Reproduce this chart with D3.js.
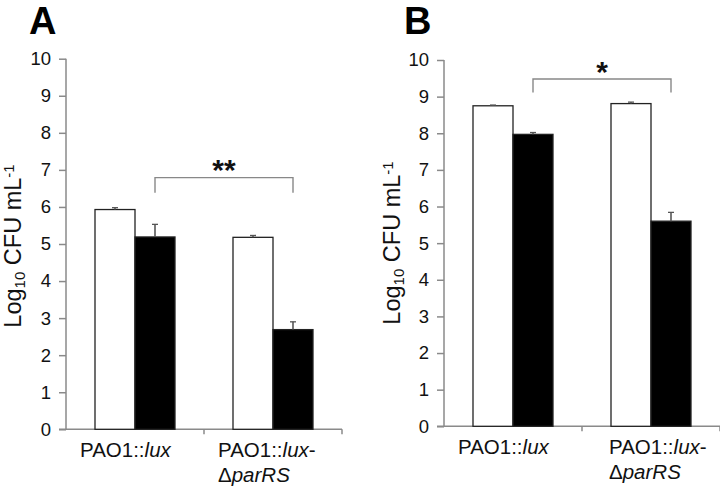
<!DOCTYPE html>
<html>
<head>
<meta charset="utf-8">
<script src="https://cdn.jsdelivr.net/npm/d3@7"></script>
<style>
  html, body { margin: 0; padding: 0; background: #fff; }
  svg { display: block; font-family: "Liberation Sans", Arial, sans-serif; }
</style>
</head>
<body>
<svg id="chart" width="720" height="495"></svg>
<script>
// ---- data ----
const categories = ["PAO1::lux", "PAO1::lux-ΔparRS"];
const seriesKeys = ["white", "black"];
const yTicks = [0, 1, 2, 3, 4, 5, 6, 7, 8, 9, 10];

const aWhite = [5.93, 5.18];
const aWhiteErr = [0.05, 0.05];
const aBlack = [5.19, 2.69];
const aBlackErr = [0.34, 0.21];
const aSig = "**";
const aBracket = [6.79, 6.38];

const bWhite = [8.75, 8.81];
const bWhiteErr = [0.02, 0.04];
const bBlack = [7.97, 5.60];
const bBlackErr = [0.05, 0.24];
const bSig = "*";
const bBracket = [9.48, 9.11];

const svg = d3.select("#chart");

function panel(opts) {
  const g = svg.append("g");
  const x = d3.scaleBand().domain(categories).range([opts.x0, opts.x1]).paddingInner(0).paddingOuter(0);
  const xs = d3.scaleBand().domain(seriesKeys).range([0, x.bandwidth()]).paddingInner(0).paddingOuter(0.725);
  const y = d3.scaleLinear().domain([0, 10]).range([opts.yBottom, opts.yTop]);
  const axisColor = "#8a8a8a";

  // y axis
  const ya = g.append("g").attr("transform", `translate(${opts.x0},0)`)
    .call(d3.axisLeft(y).tickValues(yTicks).tickSize(7).tickPadding(8).tickFormat(d3.format("d")));
  ya.select(".domain").attr("stroke", axisColor).attr("stroke-width", 1.5).attr("d", `M0,${opts.yBottom}V${opts.yTop}`);
  ya.selectAll(".tick line").attr("stroke", axisColor).attr("stroke-width", 1.5);
  ya.selectAll(".tick text").attr("font-size", 18.5).attr("fill", "#111")
    .attr("font-family", "'Liberation Sans', Arial, sans-serif");

  // x axis
  const xa = g.append("g").attr("transform", `translate(0,${opts.yBottom})`);
  xa.append("line").attr("x1", opts.x0 - 7).attr("x2", opts.x1).attr("y1", 0).attr("y2", 0)
    .attr("stroke", axisColor).attr("stroke-width", 1.5);
  const bounds = [x(categories[1]), opts.x1];
  xa.selectAll("line.xt").data(bounds).enter().append("line").attr("class", "xt")
    .attr("x1", d => d).attr("x2", d => d).attr("y1", 0).attr("y2", 5)
    .attr("stroke", axisColor).attr("stroke-width", 1.5);

  // bars
  const series = [
    { key: "white", vals: opts.white, errs: opts.whiteErr, fill: "#ffffff" },
    { key: "black", vals: opts.black, errs: opts.blackErr, fill: "#000000" }
  ];
  series.forEach(s => {
    categories.forEach((c, i) => {
      const bx = x(c) + xs(s.key);
      const bw = xs.bandwidth();
      const cx = bx + bw / 2;
      const top = y(s.vals[i] + s.errs[i]);
      const bot = s.key === "white" ? y(s.vals[i] - s.errs[i]) : y(s.vals[i]);
      g.append("line").attr("x1", cx).attr("x2", cx).attr("y1", top).attr("y2", bot)
        .attr("stroke", "#666").attr("stroke-width", 1.3);
      if (s.key === "white") {
        g.append("line").attr("x1", cx - 3).attr("x2", cx + 3).attr("y1", bot).attr("y2", bot)
          .attr("stroke", "#555").attr("stroke-width", 1.3);
      }
      g.append("rect").attr("x", bx).attr("y", y(s.vals[i]))
        .attr("width", bw).attr("height", y(0) - y(s.vals[i]))
        .attr("fill", s.fill).attr("stroke", "#222").attr("stroke-width", 1.3);
      g.append("line").attr("x1", cx).attr("x2", cx).attr("y1", top).attr("y2", y(s.vals[i]))
        .attr("stroke", "#666").attr("stroke-width", 1.3);
      g.append("line").attr("x1", cx - 3).attr("x2", cx + 3).attr("y1", top).attr("y2", top)
        .attr("stroke", "#555").attr("stroke-width", 1.3);
    });
  });

  // significance bracket
  const bx1 = x(categories[0]) + xs("black") + xs.bandwidth() / 2;
  const bx2 = x(categories[1]) + xs("black") + xs.bandwidth() / 2;
  g.append("path")
    .attr("d", `M${bx1},${y(opts.bracket[1])}V${y(opts.bracket[0])}H${bx2}V${y(opts.bracket[1])}`)
    .attr("fill", "none").attr("stroke", "#888").attr("stroke-width", 1.4);
  g.append("text").attr("x", (bx1 + bx2) / 2).attr("y", y(opts.bracket[0]) + opts.sigDy)
    .attr("text-anchor", "middle").attr("font-size", 30).attr("font-weight", "bold")
    .attr("fill", "#111").text(opts.sig);

  // x labels
  const lab1 = g.append("text").attr("x", x(categories[0]) + opts.lab1dx).attr("y", opts.yBottom + 28)
    .attr("font-size", 20.5).attr("fill", "#111");
  lab1.append("tspan").text("PAO1::");
  lab1.append("tspan").attr("font-style", "italic").text("lux");

  const lab2 = g.append("text").attr("x", x(categories[1]) + opts.lab2dx).attr("y", opts.yBottom + 28)
    .attr("font-size", 20.5).attr("fill", "#111");
  lab2.append("tspan").text("PAO1::");
  lab2.append("tspan").attr("font-style", "italic").text("lux");
  lab2.append("tspan").text("-");
  const lab2b = g.append("text").attr("x", x(categories[1]) + opts.lab2dx).attr("y", opts.yBottom + 53)
    .attr("font-size", 20.5).attr("fill", "#111");
  lab2b.append("tspan").text("Δ");
  lab2b.append("tspan").attr("font-style", "italic").text("parRS");

  // y label
  const yl = g.append("text")
    .attr("transform", `translate(${opts.ylabX},${opts.ylabY}) rotate(-90)`)
    .attr("text-anchor", "middle").attr("font-size", 23.5).attr("fill", "#111");
  yl.append("tspan").text("Log");
  yl.append("tspan").attr("font-size", 15).attr("dy", 4).text("10");
  yl.append("tspan").attr("dy", -4).text(" CFU mL");
  yl.append("tspan").attr("font-size", 15).attr("dy", -7).text("-1");

  // panel letter
  g.append("text").attr("x", opts.letterX).attr("y", 34)
    .attr("font-size", 38).attr("font-weight", "bold").attr("fill", "#000").text(opts.letter);
}

panel({
  x0: 66, x1: 342, yBottom: 429.3, yTop: 58.7,
  white: aWhite, whiteErr: aWhiteErr, black: aBlack, blackErr: aBlackErr,
  sig: aSig, bracket: aBracket, sigDy: 2,
  lab1dx: 14, lab2dx: 14, ylabX: 21, ylabY: 246, letter: "A", letterX: 29
});
panel({
  x0: 444, x1: 720, yBottom: 426.3, yTop: 60,
  white: bWhite, whiteErr: bWhiteErr, black: bBlack, blackErr: bBlackErr,
  sig: bSig, bracket: bBracket, sigDy: 3,
  lab1dx: 14, lab2dx: 27, ylabX: 400, ylabY: 243, letter: "B", letterX: 404
});
</script>
</body>
</html>
